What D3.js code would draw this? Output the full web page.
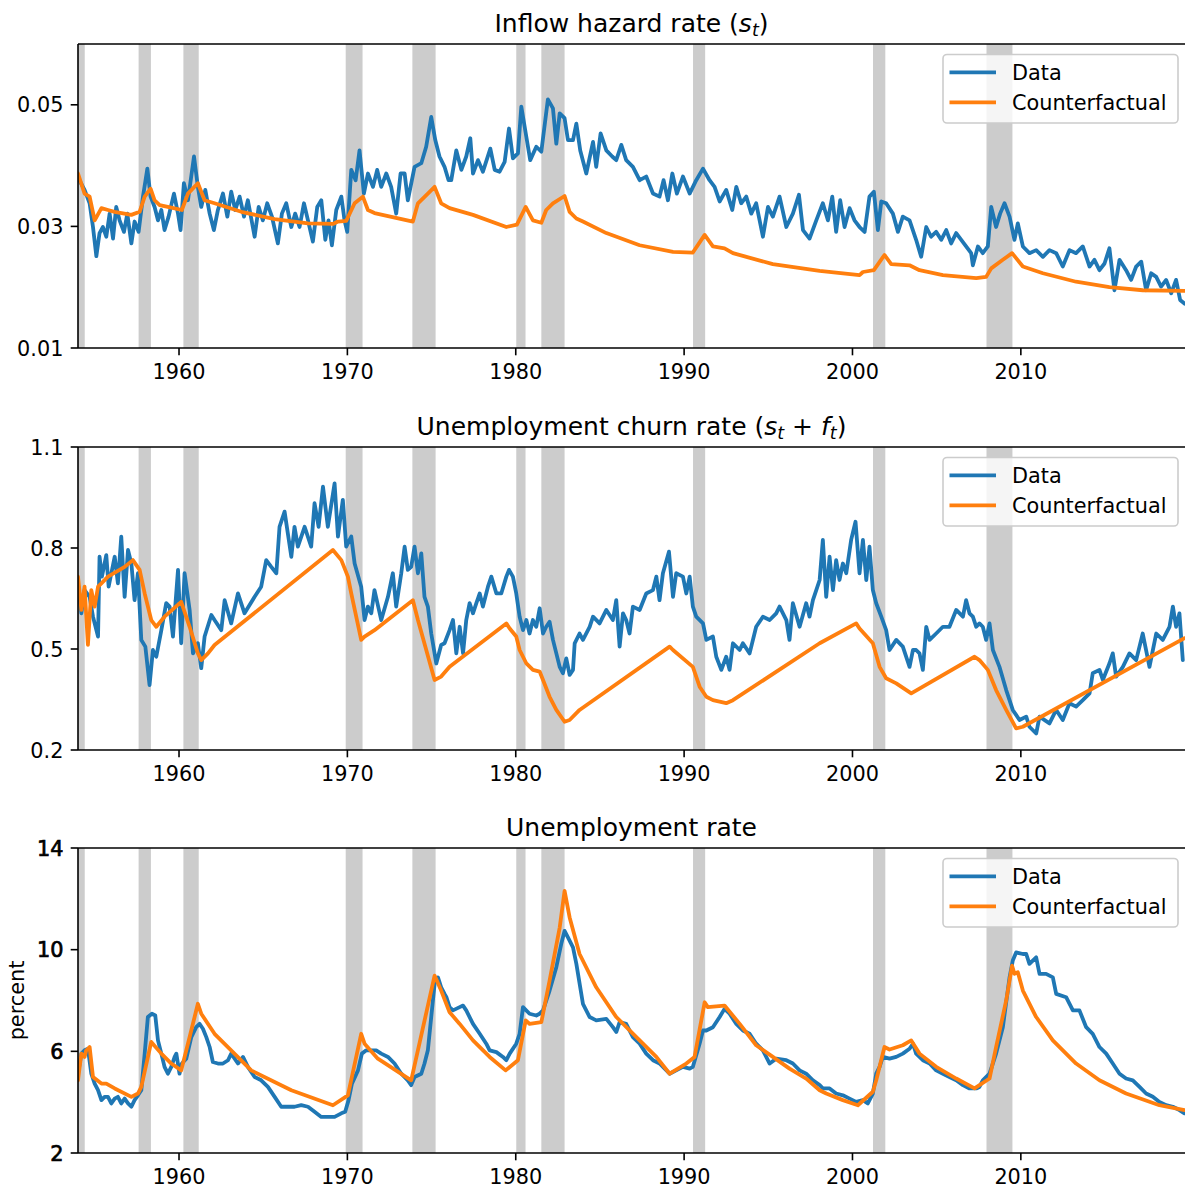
<!DOCTYPE html>
<html><head><meta charset="utf-8">
<script src="https://cdn.jsdelivr.net/npm/d3@7"></script>
<style>body{margin:0;background:#fff}svg{display:block}text{font-family:"DejaVu Sans",sans-serif;fill:#000}</style>
</head><body><svg id="c" width="1185" height="1191"></svg>
<script>
const recessions=[[1953.5,1954.4],[1957.6,1958.33],[1960.26,1961.17],[1969.9,1970.9],[1973.86,1975.24],[1980.03,1980.58],[1981.52,1982.9],[1990.53,1991.25],[2001.22,2001.95],[2007.96,2009.5]];
const xTicks=[1960,1970,1980,1990,2000,2010];
const inflowTicks=[0.01,0.03,0.05];
const churnTicks=[0.2,0.5,0.8,1.1];
const unempTicks=[2,6,10,14];
const seriesNames=["Data","Counterfactual"];

const inflowData=[[1954.00,0.0380],[1954.39,0.0360],[1954.69,0.0338],[1954.89,0.0299],[1955.09,0.0251],[1955.28,0.0289],[1955.48,0.0299],[1955.68,0.0283],[1955.88,0.0321],[1956.08,0.0280],[1956.27,0.0332],[1956.47,0.0310],[1956.73,0.0291],[1956.93,0.0321],[1957.17,0.0272],[1957.36,0.0308],[1957.60,0.0291],[1957.86,0.0349],[1958.12,0.0395],[1958.31,0.0349],[1958.55,0.0332],[1958.75,0.0310],[1958.95,0.0327],[1959.14,0.0294],[1959.38,0.0316],[1959.70,0.0354],[1959.94,0.0321],[1960.09,0.0294],[1960.29,0.0371],[1960.53,0.0343],[1960.89,0.0415],[1961.12,0.0365],[1961.32,0.0332],[1961.56,0.0360],[1961.82,0.0321],[1962.07,0.0294],[1962.31,0.0327],[1962.61,0.0354],[1962.87,0.0316],[1963.10,0.0357],[1963.34,0.0327],[1963.60,0.0349],[1963.86,0.0316],[1964.09,0.0343],[1964.49,0.0283],[1964.73,0.0332],[1964.98,0.0310],[1965.24,0.0338],[1965.52,0.0316],[1965.87,0.0272],[1966.11,0.0321],[1966.37,0.0338],[1966.67,0.0299],[1966.90,0.0321],[1967.16,0.0299],[1967.42,0.0338],[1967.66,0.0310],[1967.95,0.0275],[1968.21,0.0332],[1968.45,0.0343],[1968.69,0.0278],[1968.88,0.0310],[1969.08,0.0269],[1969.34,0.0327],[1969.64,0.0349],[1969.83,0.0310],[1969.99,0.0291],[1970.23,0.0393],[1970.49,0.0376],[1970.72,0.0425],[1970.98,0.0354],[1971.22,0.0387],[1971.52,0.0365],[1971.77,0.0393],[1972.01,0.0365],[1972.31,0.0387],[1972.60,0.0365],[1972.90,0.0321],[1973.16,0.0387],[1973.40,0.0387],[1973.59,0.0343],[1973.99,0.0398],[1974.39,0.0404],[1974.68,0.0431],[1974.98,0.0480],[1975.22,0.0442],[1975.47,0.0415],[1975.77,0.0398],[1976.01,0.0376],[1976.17,0.0376],[1976.47,0.0425],[1976.77,0.0393],[1977.06,0.0415],[1977.30,0.0445],[1977.46,0.0387],[1977.76,0.0409],[1978.05,0.0390],[1978.49,0.0428],[1978.75,0.0393],[1979.04,0.0390],[1979.34,0.0406],[1979.60,0.0461],[1979.83,0.0412],[1980.13,0.0420],[1980.33,0.0497],[1980.63,0.0447],[1980.86,0.0409],[1981.22,0.0431],[1981.52,0.0423],[1981.91,0.0509],[1982.21,0.0494],[1982.41,0.0436],[1982.61,0.0486],[1982.90,0.0478],[1983.10,0.0442],[1983.40,0.0442],[1983.60,0.0469],[1983.83,0.0425],[1984.19,0.0387],[1984.59,0.0439],[1984.78,0.0398],[1985.04,0.0453],[1985.38,0.0425],[1985.73,0.0415],[1985.97,0.0409],[1986.27,0.0434],[1986.56,0.0409],[1986.96,0.0398],[1987.36,0.0376],[1987.75,0.0382],[1988.15,0.0354],[1988.54,0.0349],[1988.78,0.0376],[1989.04,0.0343],[1989.30,0.0387],[1989.57,0.0354],[1989.93,0.0382],[1990.33,0.0354],[1990.72,0.0376],[1991.12,0.0395],[1991.51,0.0376],[1991.81,0.0365],[1992.11,0.0341],[1992.50,0.0360],[1992.86,0.0327],[1993.10,0.0365],[1993.39,0.0338],[1993.69,0.0349],[1993.99,0.0321],[1994.28,0.0338],[1994.68,0.0283],[1994.98,0.0332],[1995.27,0.0316],[1995.67,0.0349],[1996.07,0.0299],[1996.46,0.0321],[1996.82,0.0352],[1997.06,0.0294],[1997.45,0.0280],[1997.85,0.0310],[1998.24,0.0338],[1998.54,0.0310],[1998.80,0.0349],[1999.03,0.0291],[1999.27,0.0343],[1999.53,0.0299],[1999.83,0.0330],[2000.12,0.0310],[2000.42,0.0299],[2000.72,0.0291],[2001.01,0.0349],[2001.27,0.0357],[2001.51,0.0294],[2001.71,0.0341],[2002.00,0.0338],[2002.40,0.0321],[2002.70,0.0291],[2002.99,0.0316],[2003.39,0.0310],[2003.78,0.0278],[2004.08,0.0250],[2004.38,0.0299],[2004.67,0.0283],[2004.97,0.0291],[2005.27,0.0278],[2005.57,0.0294],[2005.86,0.0272],[2006.16,0.0289],[2006.46,0.0278],[2006.75,0.0267],[2007.05,0.0256],[2007.15,0.0236],[2007.45,0.0267],[2007.74,0.0256],[2008.04,0.0267],[2008.24,0.0332],[2008.53,0.0299],[2008.77,0.0321],[2009.03,0.0338],[2009.33,0.0316],[2009.62,0.0278],[2009.82,0.0305],[2010.12,0.0267],[2010.51,0.0256],[2010.91,0.0261],[2011.31,0.0250],[2011.70,0.0261],[2012.10,0.0256],[2012.49,0.0234],[2012.89,0.0261],[2013.28,0.0256],[2013.68,0.0267],[2014.08,0.0234],[2014.37,0.0245],[2014.67,0.0228],[2014.97,0.0239],[2015.26,0.0264],[2015.56,0.0195],[2015.86,0.0245],[2016.25,0.0228],[2016.55,0.0212],[2016.85,0.0234],[2017.15,0.0242],[2017.44,0.0195],[2017.74,0.0223],[2018.04,0.0217],[2018.33,0.0201],[2018.63,0.0212],[2018.93,0.0190],[2019.22,0.0212],[2019.46,0.0179],[2019.72,0.0173]];
const inflowCf=[[1954.00,0.0387],[1954.39,0.0354],[1954.69,0.0349],[1954.99,0.0310],[1955.39,0.0330],[1955.78,0.0327],[1956.17,0.0324],[1957.17,0.0319],[1957.66,0.0324],[1957.96,0.0349],[1958.31,0.0362],[1958.55,0.0343],[1958.85,0.0335],[1959.54,0.0331],[1960.17,0.0327],[1960.53,0.0354],[1961.12,0.0371],[1961.52,0.0343],[1962.11,0.0338],[1963.70,0.0324],[1965.68,0.0312],[1967.66,0.0305],[1969.14,0.0304],[1969.44,0.0308],[1969.93,0.0309],[1970.43,0.0338],[1970.92,0.0349],[1971.22,0.0327],[1971.61,0.0322],[1973.89,0.0308],[1974.19,0.0338],[1974.78,0.0354],[1975.18,0.0365],[1975.57,0.0338],[1976.07,0.0330],[1977.46,0.0319],[1979.44,0.0299],[1980.07,0.0303],[1980.59,0.0332],[1981.02,0.0310],[1981.52,0.0306],[1981.81,0.0327],[1982.21,0.0338],[1982.90,0.0350],[1983.20,0.0324],[1983.60,0.0313],[1983.99,0.0308],[1985.38,0.0289],[1987.36,0.0269],[1989.34,0.0258],[1990.52,0.0257],[1991.22,0.0286],[1991.71,0.0267],[1992.40,0.0264],[1992.90,0.0256],[1995.27,0.0238],[1998.05,0.0227],[2000.42,0.0220],[2000.62,0.0225],[2001.27,0.0228],[2001.90,0.0253],[2002.30,0.0238],[2003.39,0.0236],[2003.98,0.0228],[2005.37,0.0220],[2007.35,0.0215],[2007.94,0.0217],[2008.24,0.0231],[2008.93,0.0245],[2009.48,0.0256],[2010.12,0.0234],[2011.31,0.0223],[2013.28,0.0209],[2015.26,0.0200],[2017.24,0.0195],[2019.72,0.0194]];

const churnData=[[1954.00,0.695],[1954.20,0.606],[1954.39,0.675],[1954.69,0.655],[1954.89,0.596],[1955.19,0.537],[1955.28,0.774],[1955.42,0.715],[1955.68,0.779],[1955.82,0.685],[1955.98,0.725],[1956.18,0.774],[1956.37,0.695],[1956.57,0.834],[1956.77,0.655],[1956.97,0.794],[1957.17,0.754],[1957.36,0.645],[1957.56,0.725],[1957.76,0.527],[1958.00,0.507],[1958.25,0.393],[1958.45,0.497],[1958.65,0.477],[1958.95,0.556],[1959.24,0.636],[1959.44,0.626],[1959.64,0.537],[1959.94,0.735],[1960.13,0.517],[1960.33,0.725],[1960.63,0.616],[1960.83,0.487],[1961.12,0.517],[1961.32,0.443],[1961.52,0.537],[1961.92,0.601],[1962.11,0.586],[1962.51,0.556],[1962.71,0.645],[1963.10,0.576],[1963.50,0.665],[1963.89,0.606],[1964.49,0.655],[1964.88,0.685],[1965.18,0.764],[1965.48,0.744],[1965.78,0.725],[1965.97,0.863],[1966.27,0.908],[1966.67,0.774],[1966.86,0.863],[1967.06,0.804],[1967.46,0.863],[1967.85,0.804],[1968.05,0.933],[1968.29,0.863],[1968.55,0.982],[1968.84,0.863],[1969.24,0.992],[1969.44,0.834],[1969.73,0.943],[1969.93,0.804],[1970.23,0.834],[1970.43,0.754],[1970.82,0.685],[1971.02,0.586],[1971.22,0.626],[1971.42,0.606],[1971.61,0.675],[1972.01,0.586],[1972.41,0.655],[1972.70,0.725],[1972.90,0.626],[1973.20,0.725],[1973.40,0.804],[1973.59,0.735],[1973.79,0.744],[1973.99,0.804],[1974.19,0.725],[1974.39,0.784],[1974.58,0.655],[1974.78,0.626],[1974.98,0.546],[1975.28,0.457],[1975.57,0.512],[1975.77,0.517],[1976.07,0.556],[1976.27,0.586],[1976.47,0.487],[1976.67,0.566],[1976.87,0.487],[1977.06,0.586],[1977.26,0.636],[1977.46,0.606],[1977.66,0.636],[1977.86,0.665],[1978.05,0.626],[1978.35,0.685],[1978.55,0.715],[1978.85,0.665],[1979.14,0.665],[1979.44,0.715],[1979.60,0.735],[1979.83,0.715],[1980.03,0.665],[1980.23,0.596],[1980.43,0.556],[1980.63,0.586],[1980.82,0.546],[1981.02,0.586],[1981.22,0.566],[1981.42,0.621],[1981.62,0.546],[1981.81,0.566],[1982.01,0.581],[1982.21,0.527],[1982.41,0.487],[1982.61,0.447],[1982.80,0.428],[1983.00,0.472],[1983.20,0.423],[1983.40,0.438],[1983.50,0.517],[1983.79,0.546],[1983.99,0.527],[1984.39,0.566],[1984.59,0.596],[1984.98,0.576],[1985.38,0.616],[1985.77,0.586],[1985.97,0.645],[1986.17,0.507],[1986.37,0.606],[1986.56,0.586],[1986.76,0.546],[1986.96,0.626],[1987.36,0.616],[1987.75,0.665],[1988.15,0.675],[1988.35,0.715],[1988.54,0.645],[1988.74,0.725],[1989.10,0.789],[1989.34,0.655],[1989.53,0.725],[1989.93,0.715],[1990.13,0.665],[1990.33,0.715],[1990.52,0.626],[1990.72,0.596],[1991.12,0.576],[1991.32,0.527],[1991.71,0.537],[1991.91,0.477],[1992.21,0.438],[1992.50,0.477],[1992.70,0.438],[1992.90,0.517],[1993.30,0.497],[1993.49,0.517],[1993.89,0.487],[1994.28,0.566],[1994.68,0.596],[1995.08,0.586],[1995.47,0.606],[1995.67,0.626],[1996.07,0.586],[1996.26,0.527],[1996.46,0.636],[1996.86,0.566],[1997.25,0.636],[1997.45,0.596],[1997.65,0.645],[1997.85,0.675],[1998.05,0.705],[1998.24,0.824],[1998.44,0.655],[1998.64,0.774],[1998.84,0.675],[1999.03,0.764],[1999.23,0.705],[1999.43,0.754],[1999.63,0.725],[1999.92,0.824],[2000.18,0.878],[2000.42,0.725],[2000.62,0.824],[2000.82,0.705],[2001.01,0.804],[2001.21,0.675],[2001.41,0.636],[2001.71,0.596],[2002.00,0.556],[2002.20,0.497],[2002.60,0.527],[2002.99,0.507],[2003.39,0.447],[2003.59,0.497],[2003.78,0.497],[2003.98,0.487],[2004.18,0.438],[2004.38,0.566],[2004.58,0.527],[2004.97,0.546],[2005.37,0.566],[2005.76,0.566],[2006.16,0.616],[2006.56,0.596],[2006.75,0.645],[2006.95,0.606],[2007.15,0.596],[2007.35,0.566],[2007.54,0.576],[2007.74,0.566],[2007.94,0.527],[2008.14,0.576],[2008.34,0.497],[2008.73,0.447],[2009.13,0.378],[2009.52,0.319],[2009.92,0.289],[2010.32,0.299],[2010.51,0.269],[2010.91,0.249],[2011.11,0.299],[2011.70,0.279],[2012.10,0.319],[2012.49,0.289],[2012.89,0.339],[2013.28,0.329],[2013.68,0.348],[2014.08,0.368],[2014.27,0.428],[2014.67,0.438],[2014.87,0.408],[2015.26,0.457],[2015.46,0.487],[2015.66,0.418],[2016.06,0.447],[2016.45,0.487],[2016.85,0.467],[2017.24,0.546],[2017.64,0.447],[2018.04,0.546],[2018.43,0.527],[2018.83,0.566],[2019.03,0.626],[2019.22,0.566],[2019.42,0.606],[2019.62,0.467]];
const churnCf=[[1954.00,0.715],[1954.20,0.616],[1954.39,0.685],[1954.59,0.512],[1954.79,0.675],[1954.99,0.626],[1955.19,0.685],[1955.39,0.695],[1955.78,0.715],[1956.77,0.744],[1957.26,0.764],[1957.66,0.735],[1957.96,0.665],[1958.35,0.586],[1958.65,0.566],[1959.14,0.596],[1960.13,0.640],[1960.63,0.566],[1961.12,0.487],[1961.32,0.467],[1961.72,0.487],[1962.11,0.512],[1969.14,0.794],[1969.64,0.764],[1970.03,0.715],[1970.23,0.665],[1970.82,0.527],[1971.02,0.537],[1971.61,0.556],[1973.89,0.645],[1974.19,0.586],[1975.18,0.408],[1975.57,0.418],[1976.07,0.447],[1979.44,0.576],[1979.64,0.561],[1980.03,0.537],[1980.23,0.497],[1980.63,0.457],[1981.02,0.438],[1981.42,0.433],[1981.62,0.408],[1982.01,0.358],[1982.41,0.319],[1982.90,0.284],[1983.20,0.289],[1983.79,0.319],[1989.14,0.507],[1989.34,0.497],[1990.52,0.447],[1990.92,0.388],[1991.32,0.358],[1991.71,0.348],[1992.50,0.339],[1992.90,0.348],[1998.05,0.517],[2000.22,0.576],[2000.42,0.561],[2001.21,0.517],[2001.61,0.447],[2002.00,0.413],[2002.60,0.398],[2003.49,0.368],[2007.25,0.477],[2007.54,0.467],[2008.04,0.438],[2008.53,0.378],[2009.13,0.319],[2009.72,0.264],[2010.12,0.269],[2019.72,0.532]];

const unempData=[[1954.00,5.12],[1954.20,5.91],[1954.39,6.04],[1954.59,6.10],[1954.79,5.12],[1954.99,4.73],[1955.19,4.47],[1955.39,4.08],[1955.58,4.21],[1955.78,4.21],[1955.98,3.95],[1956.18,4.14],[1956.37,4.21],[1956.57,3.95],[1956.77,4.14],[1956.97,3.95],[1957.17,3.82],[1957.36,4.08],[1957.56,4.27],[1957.76,4.47],[1957.96,5.91],[1958.15,7.35],[1958.39,7.48],[1958.59,7.41],[1958.75,6.43],[1958.95,5.91],[1959.14,5.39],[1959.34,5.12],[1959.54,5.39],[1959.74,5.78],[1959.84,5.91],[1960.03,5.12],[1960.17,5.52],[1960.43,5.71],[1960.73,6.56],[1961.02,6.95],[1961.22,7.08],[1961.42,6.89],[1961.62,6.56],[1961.82,6.17],[1962.01,5.58],[1962.31,5.52],[1962.61,5.52],[1962.91,5.65],[1963.10,5.91],[1963.50,5.52],[1963.80,5.78],[1964.09,5.39],[1964.49,4.99],[1964.88,4.86],[1965.28,4.60],[1965.68,4.21],[1966.07,3.82],[1966.47,3.82],[1966.86,3.82],[1967.26,3.88],[1967.66,3.82],[1968.05,3.62],[1968.45,3.42],[1968.84,3.42],[1969.24,3.42],[1969.64,3.56],[1969.87,3.62],[1970.07,4.08],[1970.27,4.73],[1970.63,5.25],[1970.86,5.91],[1971.12,6.04],[1971.42,6.04],[1971.71,6.04],[1972.01,5.91],[1972.41,5.78],[1972.80,5.52],[1973.20,5.12],[1973.59,4.86],[1973.79,4.67],[1973.99,4.99],[1974.39,5.12],[1974.58,5.52],[1974.78,6.04],[1974.98,7.35],[1975.18,8.65],[1975.38,8.91],[1975.57,8.52],[1975.77,8.26],[1975.88,8.13],[1976.07,7.74],[1976.27,7.61],[1976.67,7.74],[1976.87,7.80],[1977.06,7.61],[1977.46,7.08],[1977.86,6.69],[1978.25,6.30],[1978.45,6.04],[1978.85,5.97],[1979.24,5.78],[1979.44,5.65],[1979.64,5.91],[1980.03,6.30],[1980.23,6.69],[1980.43,7.74],[1980.82,7.48],[1981.22,7.41],[1981.42,7.48],[1981.62,7.61],[1982.01,8.39],[1982.41,9.31],[1982.70,10.22],[1982.90,10.74],[1983.10,10.48],[1983.40,10.09],[1983.60,9.44],[1983.99,7.87],[1984.39,7.35],[1984.78,7.22],[1985.38,7.28],[1985.77,6.95],[1985.97,6.76],[1986.17,7.15],[1986.56,7.08],[1986.96,6.56],[1987.36,6.30],[1987.75,5.91],[1988.15,5.65],[1988.54,5.52],[1989.14,5.12],[1989.53,5.25],[1989.93,5.39],[1990.33,5.32],[1990.52,5.39],[1990.92,6.30],[1991.12,6.82],[1991.32,6.82],[1991.71,6.95],[1992.11,7.35],[1992.40,7.67],[1992.70,7.48],[1993.10,7.08],[1993.49,6.82],[1993.89,6.69],[1994.28,6.30],[1994.68,6.04],[1995.08,5.52],[1995.47,5.71],[1996.07,5.65],[1996.46,5.52],[1996.86,5.25],[1997.25,5.12],[1997.65,4.86],[1998.05,4.67],[1998.24,4.54],[1998.64,4.54],[1999.03,4.34],[1999.43,4.27],[1999.83,4.14],[2000.22,4.01],[2000.62,4.08],[2000.91,3.95],[2001.21,4.34],[2001.41,5.12],[2001.61,5.39],[2001.80,5.78],[2002.20,5.71],[2002.60,5.78],[2002.99,5.91],[2003.39,6.10],[2003.59,6.30],[2003.78,5.91],[2004.18,5.65],[2004.58,5.52],[2004.97,5.25],[2005.37,5.12],[2005.76,4.99],[2006.16,4.86],[2006.56,4.67],[2006.95,4.54],[2007.35,4.54],[2007.54,4.60],[2007.74,4.86],[2008.14,5.12],[2008.53,5.91],[2008.93,6.95],[2009.33,8.91],[2009.52,9.57],[2009.72,9.89],[2010.12,9.83],[2010.32,9.83],[2010.51,9.44],[2010.91,9.70],[2011.11,9.05],[2011.50,9.05],[2011.90,8.91],[2012.10,8.26],[2012.69,8.13],[2013.09,7.61],[2013.48,7.61],[2013.88,6.95],[2014.27,6.69],[2014.67,6.17],[2015.07,5.91],[2015.46,5.52],[2015.86,5.12],[2016.25,4.93],[2016.65,4.86],[2017.05,4.60],[2017.44,4.34],[2017.84,4.21],[2018.23,4.01],[2018.63,3.88],[2019.03,3.82],[2019.42,3.69],[2019.72,3.56]];
const unempCf=[[1954.00,4.86],[1954.20,5.91],[1954.39,5.78],[1954.49,6.04],[1954.59,6.10],[1954.69,6.17],[1954.89,4.99],[1955.39,4.73],[1955.68,4.73],[1956.18,4.54],[1957.17,4.21],[1957.56,4.34],[1957.76,4.60],[1958.35,6.37],[1958.95,5.91],[1959.54,5.52],[1960.13,5.25],[1960.53,6.30],[1961.12,7.87],[1961.32,7.48],[1962.11,6.69],[1964.29,5.25],[1966.67,4.47],[1969.14,3.88],[1970.03,4.27],[1970.82,6.69],[1971.02,6.30],[1971.81,5.71],[1973.79,4.86],[1975.18,8.98],[1975.57,8.39],[1976.07,7.54],[1976.67,7.08],[1977.46,6.43],[1978.45,5.78],[1979.40,5.25],[1980.13,5.65],[1980.59,7.22],[1980.82,7.08],[1981.52,7.15],[1982.01,8.78],[1982.61,10.87],[1982.90,12.31],[1983.20,11.27],[1983.79,9.83],[1984.78,8.52],[1985.97,7.35],[1987.36,6.43],[1988.35,5.78],[1989.14,5.12],[1990.13,5.52],[1990.62,5.78],[1991.22,7.93],[1991.41,7.74],[1992.40,7.80],[1993.30,7.08],[1994.28,6.24],[1995.27,5.78],[1996.26,5.32],[1997.25,4.93],[1998.05,4.47],[1998.44,4.34],[1999.43,4.08],[2000.32,3.88],[2001.21,4.41],[2001.41,4.86],[2001.90,6.17],[2002.20,6.07],[2002.99,6.24],[2003.49,6.43],[2003.98,5.91],[2004.97,5.39],[2006.16,4.93],[2007.25,4.54],[2008.14,4.93],[2008.53,6.17],[2009.13,8.00],[2009.48,9.37],[2009.62,9.05],[2009.82,9.11],[2010.12,8.39],[2010.91,7.35],[2011.90,6.43],[2013.28,5.52],[2014.67,4.86],[2016.25,4.34],[2018.23,3.88],[2019.72,3.69]];

const BLUE="#1f77b4",ORANGE="#ff7f0e";
const LW=3.8;
const svg=d3.select("#c");
const x=d3.scaleLinear().domain([1954,2019.75]).range([78,1185]);
const panels=[
 {top:44,bottom:348,domain:[0.01,0.06],ticks:inflowTicks,fmt:d3.format(".2f"),data:inflowData,cf:inflowCf,
  title:[{t:"Inflow hazard rate ("},{t:"s",i:1},{t:"t",i:1,s:1},{t:")"}]},
 {top:447,bottom:750,domain:[0.2,1.1],ticks:churnTicks,fmt:d3.format(".1f"),data:churnData,cf:churnCf,
  title:[{t:"Unemployment churn rate ("},{t:"s",i:1},{t:"t",i:1,s:1},{t:" + "},{t:"f",i:1},{t:"t",i:1,s:1},{t:")"}]},
 {top:848,bottom:1153,domain:[2,14],ticks:unempTicks,fmt:d3.format("d"),data:unempData,cf:unempCf,bold:1,ylabel:"percent",
  title:[{t:"Unemployment rate"}]}
];
const L=78,R=1185;
panels.forEach((p,k)=>{
  const y=d3.scaleLinear().domain(p.domain).range([p.bottom,p.top]);
  const g=svg.append("g");
  const cid="clip"+k;
  svg.append("clipPath").attr("id",cid).append("rect").attr("x",L).attr("y",p.top).attr("width",R-L).attr("height",p.bottom-p.top);
  const plot=g.append("g").attr("clip-path",`url(#${cid})`);
  plot.selectAll("rect.rec").data(recessions).enter().append("rect")
    .attr("x",d=>x(d[0])).attr("width",d=>x(d[1])-x(d[0]))
    .attr("y",p.top).attr("height",p.bottom-p.top).attr("fill","#cccccc");
  const line=d3.line().x(d=>x(d[0])).y(d=>y(d[1]));
  plot.append("path").attr("d",line(p.data)).attr("fill","none").attr("stroke",BLUE).attr("stroke-width",LW).attr("stroke-linejoin","round").attr("stroke-linecap","round");
  plot.append("path").attr("d",line(p.cf)).attr("fill","none").attr("stroke",ORANGE).attr("stroke-width",LW).attr("stroke-linejoin","round").attr("stroke-linecap","round");
  g.append("line").attr("x1",L).attr("x2",L).attr("y1",p.top).attr("y2",p.bottom).attr("stroke","#000").attr("stroke-width",1.6);
  g.append("line").attr("x1",L).attr("x2",R).attr("y1",p.top).attr("y2",p.top).attr("stroke","#000").attr("stroke-width",1.6);
  g.append("line").attr("x1",L).attr("x2",R).attr("y1",p.bottom).attr("y2",p.bottom).attr("stroke","#000").attr("stroke-width",1.6);
  xTicks.forEach(t=>{
    g.append("line").attr("x1",x(t)).attr("x2",x(t)).attr("y1",p.bottom).attr("y2",p.bottom+7.3).attr("stroke","#000").attr("stroke-width",1.6);
    g.append("text").attr("x",x(t)).attr("y",p.bottom+30.5).attr("text-anchor","middle").attr("font-size",20.8).text(t);
  });
  p.ticks.forEach(t=>{
    g.append("line").attr("x1",L-7.3).attr("x2",L).attr("y1",y(t)).attr("y2",y(t)).attr("stroke","#000").attr("stroke-width",1.6);
    const tx=g.append("text").attr("x",L-14.6).attr("y",y(t)+7.6).attr("text-anchor","end").attr("font-size",20.8).text(p.fmt(t));
    if(p.bold) tx.attr("stroke","#000").attr("stroke-width",0.7);
  });
  const tt=g.append("text").attr("x",(L+R)/2).attr("y",p.top-12.5).attr("text-anchor","middle").attr("font-size",25);
  let lowered=false;
  p.title.forEach(part=>{
    const ts=tt.append("tspan").text(part.t);
    if(part.i) ts.attr("font-style","italic");
    if(part.s){ ts.attr("font-size",17.5); if(!lowered){ts.attr("dy",4);lowered=true;} }
    else if(lowered){ ts.attr("dy",-4); lowered=false; }
  });
  if(p.ylabel){
    g.append("text").attr("transform",`translate(24,${(p.top+p.bottom)/2}) rotate(-90)`).attr("text-anchor","middle").attr("font-size",20.8).text(p.ylabel);
  }
  const lg=g.append("g");
  lg.append("rect").attr("x",943).attr("y",p.top+10.5).attr("width",235).attr("height",68.5).attr("rx",4)
    .attr("fill","#fff").attr("fill-opacity",0.8).attr("stroke","#cccccc").attr("stroke-width",1.6);
  [BLUE,ORANGE].forEach((c,i)=>{
    lg.append("line").attr("x1",949.5).attr("x2",996).attr("y1",p.top+28.3+30*i).attr("y2",p.top+28.3+30*i).attr("stroke",c).attr("stroke-width",LW);
    lg.append("text").attr("x",1012).attr("y",p.top+35.8+30*i).attr("font-size",20.8).text(seriesNames[i]);
  });
});
</script></body></html>
